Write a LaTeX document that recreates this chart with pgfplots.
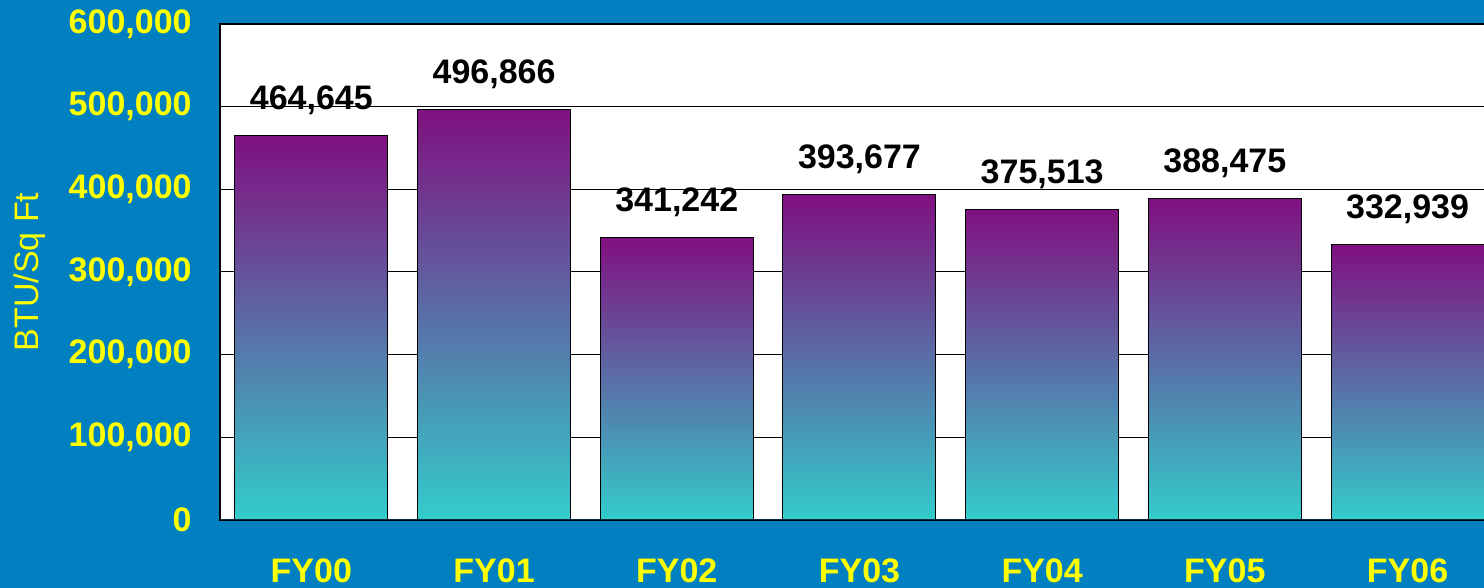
\documentclass[border=0pt]{standalone}
\usepackage{fontspec}
\setmainfont{Liberation Sans}
\usepackage{pgfplots}
\pgfplotsset{compat=1.18}
\definecolor{bgblue}{RGB}{0,128,192}
\definecolor{tickyellow}{RGB}{255,255,0}
\definecolor{bartop}{RGB}{128,16,128}
\definecolor{barmid}{RGB}{112,120,150}
\definecolor{barbot}{RGB}{51,204,204}
\pgfplotsset{mybar/.style={ybar, bar width=76.5pt, draw=black, line width=0.5pt, top color=bartop, middle color=barmid, bottom color=barbot}}
\begin{document}
\begin{tikzpicture}
\path[use as bounding box, fill=bgblue] (0,0) rectangle (742pt,294pt);
\begin{axis}[
  at={(110pt,34pt)}, anchor=south west,
  width=639.45pt, height=248pt, scale only axis,
  xmin=-0.5, xmax=6.5, ymin=0, ymax=600000,
  axis background/.style={fill=white},
  axis line style={black, line width=0.6pt},
  xtick={0,1,2,3,4,5,6},
  xticklabels={FY00,FY01,FY02,FY03,FY04,FY05,FY06},
  ytick={0,100000,200000,300000,400000,500000,600000},
  ymajorgrids, grid style={black, line width=0.5pt},
  major tick length=0pt,
  scaled y ticks=false,
  /pgf/number format/fixed,
  /pgf/number format/precision=0,
  /pgf/number format/1000 sep={,},
  /pgf/number format/assume math mode=true,
  yticklabel style={font=\fontsize{17}{20}\selectfont\bfseries, text=tickyellow, anchor=east, inner sep=0pt, xshift=-14pt},
  xticklabel style={font=\fontsize{17}{20}\selectfont\bfseries, text=tickyellow, anchor=north, inner sep=0pt, yshift=-19pt},
  ylabel={BTU/Sq Ft},
  every axis y label/.style={at={(rel axis cs:0,0.5)}, xshift=-95pt, rotate=90, anchor=center, font=\fontsize{17}{20}\selectfont, text=tickyellow},
  nodes near coords,
  every node near coord/.append style={font=\fontsize{17}{20}\selectfont\bfseries, text=black, anchor=base, inner sep=0pt, yshift=13pt},
]
\addplot[mybar] coordinates {(0,464645)};
\addplot[mybar] coordinates {(1,496866)};
\addplot[mybar] coordinates {(2,341242)};
\addplot[mybar] coordinates {(3,393677)};
\addplot[mybar] coordinates {(4,375513)};
\addplot[mybar] coordinates {(5,388475)};
\addplot[mybar] coordinates {(6,332939)};
\draw[line width=1.2pt, color={rgb,255:red,10;green,40;blue,60}] (rel axis cs:0,0) -- (rel axis cs:1,0);
\end{axis}
\end{tikzpicture}
\end{document}
